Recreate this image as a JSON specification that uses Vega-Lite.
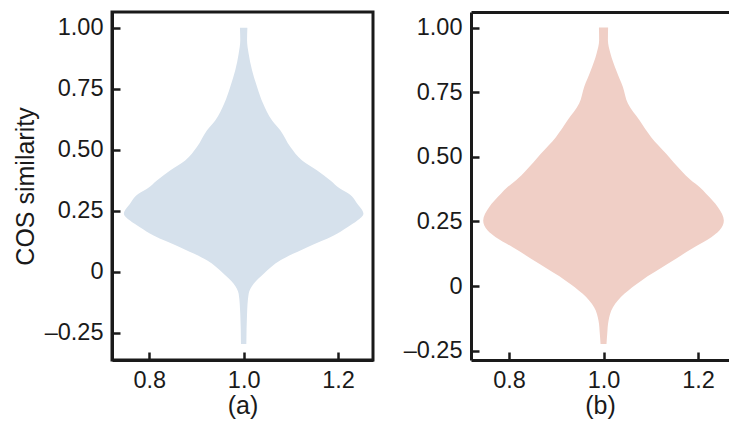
{
  "$schema": "https://vega.github.io/schema/vega-lite/v6.json",
  "padding": {"left": 11, "top": 10, "right": 0, "bottom": 0},
  "background": "white",
  "datasets": {
    "a": [
      {"y": -0.295, "lo": 0.9943, "hi": 1.0057},
      {"y": -0.172, "lo": 0.9928, "hi": 1.0072},
      {"y": -0.090, "lo": 0.9894, "hi": 1.0106},
      {"y": -0.049, "lo": 0.9788, "hi": 1.0212},
      {"y": -0.008, "lo": 0.9575, "hi": 1.0425},
      {"y": 0.047, "lo": 0.922, "hi": 1.078},
      {"y": 0.101, "lo": 0.865, "hi": 1.135},
      {"y": 0.149, "lo": 0.809, "hi": 1.191},
      {"y": 0.183, "lo": 0.780, "hi": 1.220},
      {"y": 0.210, "lo": 0.759, "hi": 1.241},
      {"y": 0.238, "lo": 0.746, "hi": 1.254},
      {"y": 0.279, "lo": 0.759, "hi": 1.241},
      {"y": 0.320, "lo": 0.777, "hi": 1.223},
      {"y": 0.340, "lo": 0.795, "hi": 1.205},
      {"y": 0.374, "lo": 0.816, "hi": 1.184},
      {"y": 0.415, "lo": 0.844, "hi": 1.156},
      {"y": 0.456, "lo": 0.876, "hi": 1.124},
      {"y": 0.511, "lo": 0.9008, "hi": 1.0992},
      {"y": 0.579, "lo": 0.922, "hi": 1.078},
      {"y": 0.620, "lo": 0.9397, "hi": 1.0603},
      {"y": 0.689, "lo": 0.9588, "hi": 1.0412},
      {"y": 0.757, "lo": 0.9715, "hi": 1.0285},
      {"y": 0.825, "lo": 0.9822, "hi": 1.0178},
      {"y": 0.893, "lo": 0.9894, "hi": 1.0106},
      {"y": 0.948, "lo": 0.9928, "hi": 1.0072},
      {"y": 1.000, "lo": 0.9921, "hi": 1.0079}
    ],
    "b": [
      {"y": -0.224, "lo": 0.9937, "hi": 1.0063},
      {"y": -0.185, "lo": 0.9922, "hi": 1.0078},
      {"y": -0.134, "lo": 0.9894, "hi": 1.0106},
      {"y": -0.082, "lo": 0.980, "hi": 1.020},
      {"y": -0.030, "lo": 0.956, "hi": 1.044},
      {"y": 0.021, "lo": 0.920, "hi": 1.080},
      {"y": 0.086, "lo": 0.864, "hi": 1.136},
      {"y": 0.150, "lo": 0.808, "hi": 1.192},
      {"y": 0.189, "lo": 0.772, "hi": 1.228},
      {"y": 0.215, "lo": 0.755, "hi": 1.245},
      {"y": 0.254, "lo": 0.7455, "hi": 1.2545},
      {"y": 0.305, "lo": 0.758, "hi": 1.242},
      {"y": 0.357, "lo": 0.783, "hi": 1.217},
      {"y": 0.383, "lo": 0.797, "hi": 1.203},
      {"y": 0.409, "lo": 0.815, "hi": 1.185},
      {"y": 0.447, "lo": 0.836, "hi": 1.164},
      {"y": 0.512, "lo": 0.8674, "hi": 1.1326},
      {"y": 0.576, "lo": 0.8992, "hi": 1.1008},
      {"y": 0.641, "lo": 0.9239, "hi": 1.0761},
      {"y": 0.706, "lo": 0.9484, "hi": 1.0516},
      {"y": 0.770, "lo": 0.959, "hi": 1.041},
      {"y": 0.835, "lo": 0.9732, "hi": 1.0268},
      {"y": 0.899, "lo": 0.9852, "hi": 1.0148},
      {"y": 0.951, "lo": 0.9907, "hi": 1.0093},
      {"y": 1.000, "lo": 0.9903, "hi": 1.0097}
    ]
  },
  "config": {
    "view": {"stroke": null},
    "font": "Liberation Sans",
    "axis": {
      "grid": false,
      "domainColor": "#1a1a1a",
      "domainWidth": 3,
      "tickColor": "#1a1a1a",
      "tickWidth": 2.5,
      "tickSize": -8,
      "labelColor": "#1a1a1a",
      "labelFont": "Liberation Sans",
      "labelFontSize": 23.5,
      "titleFont": "Liberation Sans",
      "titleFontSize": 25,
      "titleFontWeight": "normal",
      "titleColor": "#1a1a1a"
    },
    "concat": {"spacing": 28}
  },
  "hconcat": [
    {
      "width": 261,
      "height": 348,
      "data": {"name": "a"},
      "view": {"stroke": "#1a1a1a", "strokeWidth": 3},
      "mark": {"type": "area", "orient": "horizontal", "color": "#d6e1ec", "opacity": 1, "interpolate": "monotone"},
      "encoding": {
        "y": {
          "field": "y", "type": "quantitative",
          "scale": {"domain": [-0.361, 1.064], "nice": false, "zero": false},
          "axis": {
            "values": [-0.25, 0, 0.25, 0.5, 0.75, 1],
            "labelExpr": "datum.value == 0 ? '0' : (datum.value < 0 ? '–' + format(-datum.value, '.2f') : format(datum.value, '.2f'))",
            "labelPadding": 17,
            "title": "COS similarity",
            "titlePadding": 6
          }
        },
        "x": {
          "field": "lo", "type": "quantitative",
          "scale": {"domain": [0.7208, 1.2743], "nice": false, "zero": false},
          "axis": {
            "values": [0.8, 1.0, 1.2],
            "format": ".1f",
            "labelPadding": 16,
            "title": "(a)",
            "titleFontSize": 25,
            "titlePadding": 2
          }
        },
        "x2": {"field": "hi"}
      }
    },
    {
      "width": 258,
      "height": 348,
      "data": {"name": "b"},
      "encoding": {
        "y": {
          "field": "y", "type": "quantitative",
          "scale": {"domain": [-0.286, 1.06], "nice": false, "zero": false},
          "axis": {
            "values": [-0.25, 0, 0.25, 0.5, 0.75, 1],
            "labelExpr": "datum.value == 0 ? '0' : (datum.value < 0 ? '–' + format(-datum.value, '.2f') : format(datum.value, '.2f'))",
            "labelPadding": 17,
            "title": null
          }
        }
      },
      "layer": [
        {
          "mark": {"type": "area", "orient": "horizontal", "color": "#f0cfc6", "opacity": 1, "interpolate": "monotone"},
          "encoding": {
            "x": {
              "field": "lo", "type": "quantitative",
              "scale": {"domain": [0.7197, 1.2654], "nice": false, "zero": false},
              "axis": {
                "values": [0.8, 1.0, 1.2],
                "format": ".1f",
                "labelPadding": 16,
                "title": "(b)",
                "titleFontSize": 25,
                "titlePadding": 2
              }
            },
            "x2": {"field": "hi"}
          }
        },
        {
          "mark": {"type": "area", "orient": "horizontal", "opacity": 0},
          "encoding": {
            "x": {
              "field": "lo", "type": "quantitative",
              "axis": {"orient": "top", "labels": false, "ticks": false, "title": null}
            },
            "x2": {"field": "hi"}
          }
        }
      ],
      "resolve": {"axis": {"x": "independent"}}
    }
  ]
}
